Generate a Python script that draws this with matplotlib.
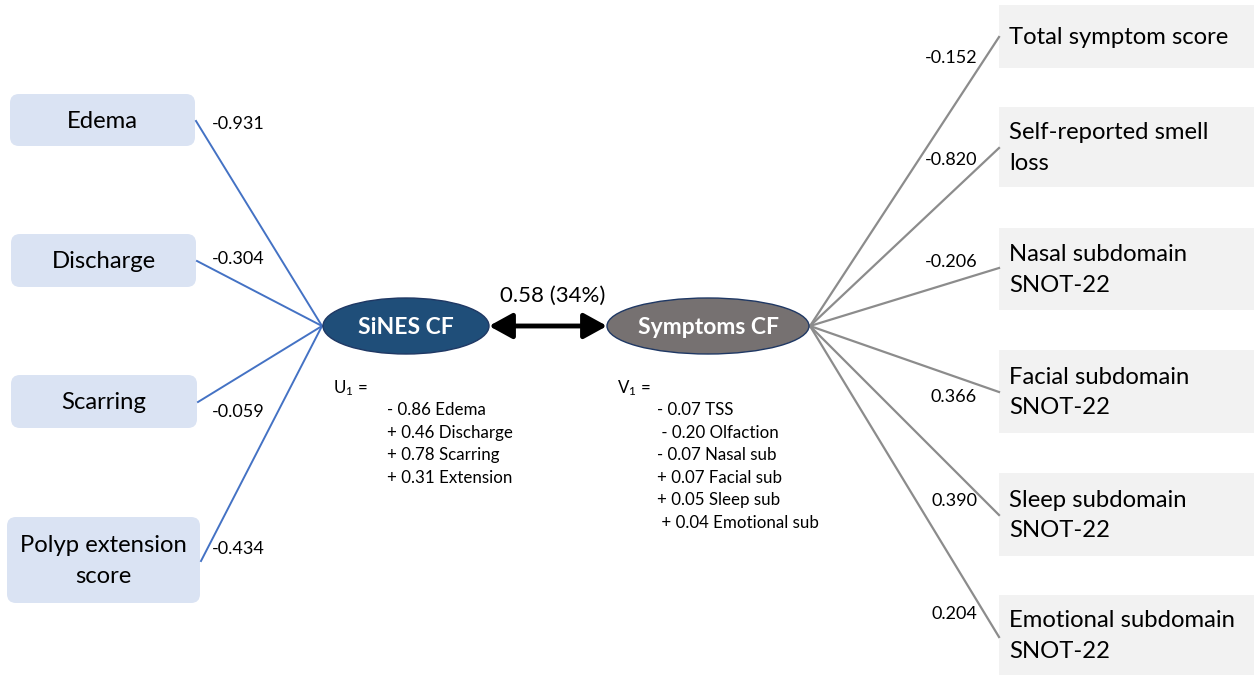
import matplotlib
matplotlib.use("Agg")
import matplotlib.pyplot as plt
from matplotlib.patches import FancyBboxPatch, Rectangle, Ellipse, FancyArrowPatch

plt.rcParams['font.family'] = ['Lato', 'DejaVu Sans']
plt.rcParams['mathtext.default'] = 'regular'

# ---- data ----
left_labels = ["Edema", "Discharge", "Scarring", "Polyp extension\nscore"]
left_loadings = [-0.931, -0.304, -0.059, -0.434]
right_labels = ["Total symptom score", "Self-reported smell\nloss", "Nasal subdomain\nSNOT-22",
                "Facial subdomain\nSNOT-22", "Sleep subdomain\nSNOT-22", "Emotional subdomain\nSNOT-22"]
right_loadings = [-0.152, -0.820, -0.206, 0.366, 0.390, 0.204]
u_terms = ["- 0.86 Edema", "+ 0.46 Discharge", "+ 0.78 Scarring", "+ 0.31 Extension"]
v_terms = ["- 0.07 TSS", " - 0.20 Olfaction", "- 0.07 Nasal sub", "+ 0.07 Facial sub",
           "+ 0.05 Sleep sub", " + 0.04 Emotional sub"]
canonical_corr = "0.58 (34%)"
left_factor = "SiNES CF"
right_factor = "Symptoms CF"

# ---- layout (pixel coordinates) ----
W, H = 1254, 675
fig = plt.figure(figsize=(W / 100, H / 100), dpi=100)
ax = fig.add_axes([0, 0, 1, 1])
ax.set_xlim(0, W)
ax.set_ylim(H, 0)
ax.axis('off')

blue_line = "#4472c4"
gray_line = "#8c8c8c"
box_fs = 17.2
num_fs = 13
eq_fs = 12.2

left_boxes = [(10, 94, 195, 146), (11, 234, 196, 287), (11, 375, 197, 428), (7, 517, 200, 603)]
left_attach = [121, 261, 402, 561]
left_lab_y = [124, 259, 412, 549]
hub_left = (322, 326)
for (x0, y0, x1, y1), lab, val, ay, ly in zip(left_boxes, left_labels, left_loadings, left_attach, left_lab_y):
    ax.add_patch(FancyBboxPatch((x0, y0), x1 - x0, y1 - y0,
                                boxstyle="round,pad=0,rounding_size=9",
                                fc="#dae3f3", ec="none", zorder=1))
    ax.text((x0 + x1) / 2, (y0 + y1) / 2 + 1, lab, ha='center', va='center',
            fontsize=box_fs, color='black', linespacing=1.55, zorder=3)
    ax.plot([x1 + 1, hub_left[0]], [ay, hub_left[1]], color=blue_line, lw=1.4, zorder=2)
    ax.text(212, ly, f"{val:.3f}", ha='left', va='center', fontsize=num_fs, color='black')

right_boxes = [(999, 5, 1254, 68), (999, 107, 1254, 187), (999, 228, 1254, 310),
               (999, 350, 1254, 433), (999, 473, 1254, 556), (999, 595, 1254, 675)]
right_attach = [37, 148, 268, 392, 515, 637]
right_lab_y = [58, 160, 262, 397, 501, 614]
hub_right = (810, 326)
for (x0, y0, x1, y1), lab, val, ay, ly in zip(right_boxes, right_labels, right_loadings, right_attach, right_lab_y):
    ax.add_patch(Rectangle((x0, y0), x1 - x0, y1 - y0, fc="#f2f2f2", ec="none", zorder=1))
    ax.text(x0 + 10, (y0 + y1) / 2 + 1 if "\n" in lab else 37, lab, ha='left', va='center',
            fontsize=box_fs, color='black', linespacing=1.55, zorder=3)
    ax.plot([hub_right[0], x0], [hub_right[1], ay], color=gray_line, lw=1.6, zorder=2)
    ax.text(977, ly, f"{val:.3f}", ha='right', va='center', fontsize=num_fs, color='black')

# ellipses
ax.add_patch(Ellipse((406, 326), 166, 56, fc="#1f4e79", ec="#1f3864", lw=1.0, zorder=4))
ax.text(406, 327, left_factor, ha='center', va='center', fontsize=16.5, fontweight='bold',
        color='white', zorder=5)
ax.add_patch(Ellipse((708, 326), 202, 56, fc="#767171", ec="#1f3864", lw=1.0, zorder=4))
ax.text(708, 327, right_factor, ha='center', va='center', fontsize=16.5, fontweight='bold',
        color='white', zorder=5)

# double-headed arrow
ax.add_patch(FancyArrowPatch((489, 326), (607, 326),
                             arrowstyle='<|-|>,head_length=1.0,head_width=0.55',
                             mutation_scale=14, lw=3.5, color='black',
                             shrinkA=0, shrinkB=0, zorder=3))
ax.text(553, 296, canonical_corr, ha='center', va='center', fontsize=16, color='black')

# equations
ax.text(333, 388, r"U$_1$ =", ha='left', va='center', fontsize=eq_fs)
for i, t in enumerate(u_terms):
    ax.text(387, 410 + i * 22.7, t, ha='left', va='center', fontsize=eq_fs)
ax.text(617, 388, r"V$_1$ =", ha='left', va='center', fontsize=eq_fs)
for i, t in enumerate(v_terms):
    ax.text(657, 410 + i * 22.6, t, ha='left', va='center', fontsize=eq_fs)

fig.savefig("out.png", dpi=100, facecolor='white')
